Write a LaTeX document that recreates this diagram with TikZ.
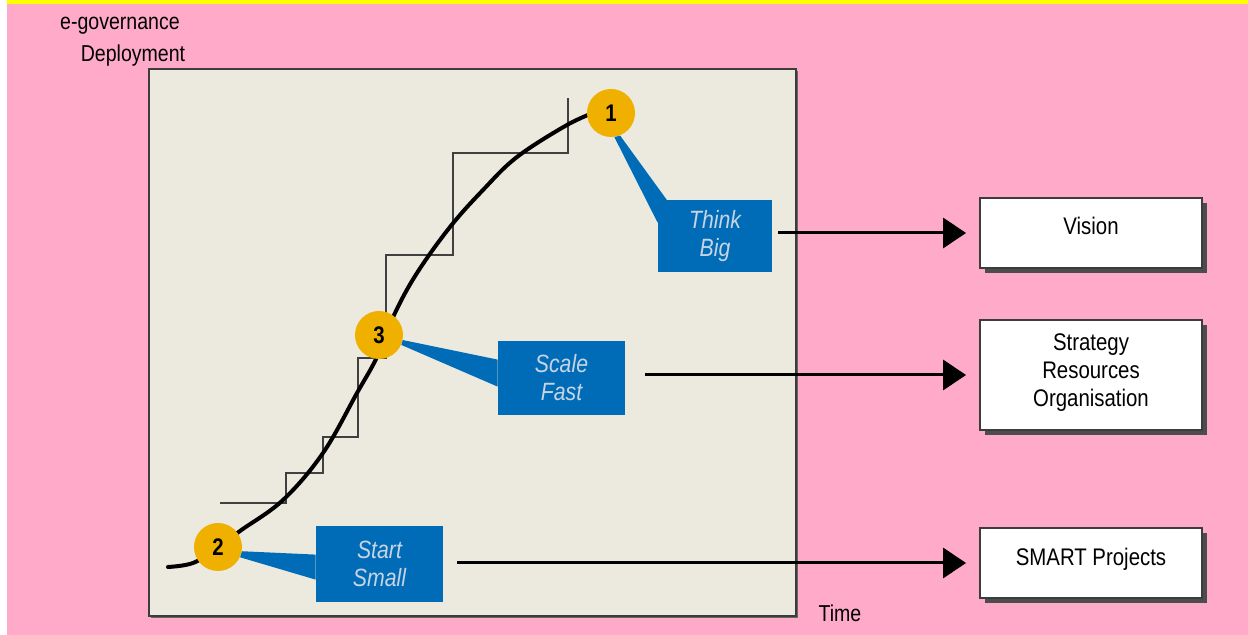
\documentclass[tikz,border=0pt]{standalone}
\usepackage{fontspec}
\setmainfont{Liberation Sans}
\newfontfamily\nsans[FakeStretch=0.85]{Liberation Sans}
\usetikzlibrary{arrows.meta,shadows,calc}
\definecolor{bgpink}{RGB}{255,170,200}
\definecolor{bandyellow}{RGB}{255,255,0}
\definecolor{panel}{RGB}{236,233,222}
\definecolor{callblue}{RGB}{0,108,183}
\definecolor{dotorange}{RGB}{240,176,0}
\definecolor{calltext}{RGB}{200,212,228}
\definecolor{edgegray}{RGB}{60,60,60}
\begin{document}
\begin{tikzpicture}[x=0.5pt,y=-0.5pt,
  mainbox/.style={draw=edgegray, line width=1pt, fill=panel, minimum width=323.5pt, minimum height=273.5pt, inner sep=0pt,
    drop shadow={shadow xshift=1pt, shadow yshift=-1pt, fill=black!60, opacity=1}},
  stairs/.style={draw=black!75, line width=0.7pt},
  scurve/.style={line width=2pt, black, line cap=round, line join=round},
  dot/.style={circle, fill=dotorange, minimum size=24pt, inner sep=0pt, font=\nsans\bfseries\fontsize{12}{13}\selectfont},
  callout/.style={fill=callblue, inner sep=0pt, align=center, text=calltext, font=\nsans\itshape\fontsize{12.5}{14}\selectfont},
  pointer/.style={fill=callblue},
  outbox/.style={draw=edgegray, line width=0.9pt, fill=white, minimum width=111pt, inner sep=0pt,
    drop shadow={shadow xshift=2.5pt, shadow yshift=-2.5pt, fill=black!70, opacity=1}},
  boxtext/.style={align=center, font=\nsans\fontsize{12}{14}\selectfont, inner sep=0pt},
  axislabel/.style={font=\nsans\fontsize{11.5}{13}\selectfont, inner sep=0pt},
  flow/.style={line width=1.5pt, -{Triangle[length=11.5pt,width=15pt]}}
]
% background
\fill[white] (0,0) rectangle (1248,635);
\fill[bgpink] (7,4) rectangle (1248,635);
\fill[bandyellow] (7,0) rectangle (1248,4);
\useasboundingbox (0,0) rectangle (1248,635);

% axis labels
\node[axislabel, anchor=base] (ylabA) at (120,30) {e-governance};
\node[axislabel, anchor=base] (ylabB) at (133,62) {Deployment};
\node[axislabel, anchor=base] (xlab) at (840,622) {Time};

% panel
\node[mainbox] (frame) at (472.5,342.5) {};

% staircase
\draw[stairs] (220,503) -- (286,503) -- (286,473) -- (323,473) -- (323,437) -- (358,437)
  -- (358,358) -- (386,358) -- (386,255) -- (453,255) -- (453,153) -- (568,153) -- (568,98);

% S-curve
\draw[scurve] plot[smooth, tension=0.6] coordinates {(168,567) (193,563) (218,548) (240,531) (283,500)
  (323,453) (357,393) (377,357) (395,313) (417,273) (450,227) (483,190) (517,157) (567,125) (598,111)};

% callouts
\node[callout, minimum width=57pt, minimum height=36pt] (tb) at (715,236) {Think\\Big};
\node[callout, minimum width=63.5pt, minimum height=37pt] (sf) at (561.5,378) {Scale\\Fast};
\node[callout, minimum width=63.5pt, minimum height=38pt] (ss) at (379.5,564) {Start\\Small};

% circles
\node[dot] (c1) at (611,113) {1};
\node[dot] (c3) at (379,335) {3};
\node[dot] (c2) at (218,547) {2};

% pointers
\fill[pointer] (c1.-82) -- (c1.-68) -- ($(tb.north west)+(9,0)$) -- ($(tb.north west)+(0,23)$) -- cycle;
\fill[pointer] (c3.-12) -- (c3.-24) -- ($(sf.north west)+(0,46)$) -- ($(sf.north west)+(0,19)$) -- cycle;
\fill[pointer] (c2.-10) -- (c2.-25) -- ($(ss.north west)+(0,54)$) -- ($(ss.north west)+(0,29)$) -- cycle;

% result boxes
\node[outbox, minimum height=35pt] (vis) at (1091,233) {};
\node[boxtext, anchor=base] (vist) at (1091,235) {Vision};
\node[outbox, minimum height=55pt] (str) at (1091,375) {};
\node[boxtext] (strt) at (1091,373) {Strategy\\Resources\\Organisation};
\node[outbox, minimum height=35pt] (sm) at (1091,563) {};
\node[boxtext, anchor=base] (smt) at (1091,566) {SMART Projects};

% arrows
\draw[flow, shorten <=3pt, shorten >=6.5pt] (tb.east |- vis.west) -- (vis.west);
\draw[flow, shorten <=10pt, shorten >=6.5pt] (sf.east |- str.west) -- (str.west);
\draw[flow, shorten <=7pt, shorten >=6.5pt] (ss.east |- sm.west) -- (sm.west);
\end{tikzpicture}
\end{document}
